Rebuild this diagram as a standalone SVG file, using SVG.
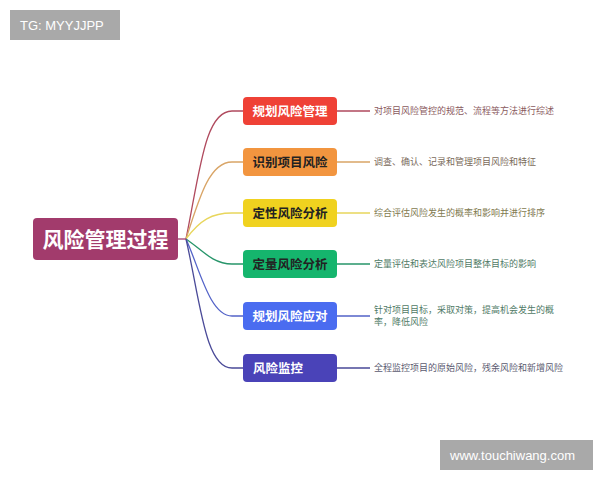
<svg xmlns="http://www.w3.org/2000/svg" width="600" height="480" viewBox="0 0 600 480">
<style>
text{font-family:"Noto Sans CJK SC","Noto Sans",sans-serif}
.n{font-size:12.5px;font-weight:bold;text-anchor:middle}
.d{font-size:9px}
.c{fill:none;stroke-width:1.3}
.wm{font-family:"Liberation Sans",sans-serif;fill:#fff;font-size:13px}
</style>
<rect width="600" height="480" fill="#fff"/>
<g id="connectors">
<path class="c" stroke="#b04a5e" d="M186,239 C200,170 205,111 232,111 L243,111 M337,111 L370,111"/>
<path class="c" stroke="#d9a567" d="M186,239 C200,195 210,162 232,162 L243,162 M337,162 L370,162"/>
<path class="c" stroke="#e8d65c" d="M186,239 C200,220 212,213 232,213 L243,213 M337,213 L370,213"/>
<path class="c" stroke="#27956a" d="M186,239 C200,248 212,264 232,264 L243,264 M337,264 L370,264"/>
<path class="c" stroke="#5363c8" d="M186,239 C200,270 210,316 232,316 L243,316 M337,316 L370,316"/>
<path class="c" stroke="#4a4a98" d="M186,239 C200,300 205,368 232,368 L243,368 M337,368 L370,368"/>
<path class="c" stroke="#a33d6e" d="M178,239 L186,239"/>
</g>
<g id="center"><rect x="33" y="218" width="145" height="42" rx="4" fill="#a23b6c"/><text x="105.5" y="247" font-size="21" font-weight="bold" fill="#fff" text-anchor="middle">风险管理过程</text></g>
<g id="n1"><rect x="243" y="97" width="94" height="28" rx="4" fill="#ef4136"/><text class="n" x="290" y="115.5" fill="#fff">规划风险管理</text><text class="d" x="374" y="114" fill="#8a5a5e">对项目风险管控的规范、流程等方法进行综述</text></g>
<g id="n2"><rect x="243" y="148" width="94" height="28" rx="4" fill="#f2953f"/><text class="n" x="290" y="166.5" fill="#222">识别项目风险</text><text class="d" x="374" y="165" fill="#7a6a5a">调查、确认、记录和管理项目风险和特征</text></g>
<g id="n3"><rect x="243" y="199" width="94" height="28" rx="4" fill="#f0d21f"/><text class="n" x="290" y="217.5" fill="#222">定性风险分析</text><text class="d" x="374" y="216" fill="#7f7a50">综合评估风险发生的概率和影响并进行排序</text></g>
<g id="n4"><rect x="243" y="250" width="94" height="28" rx="4" fill="#15b56d"/><text class="n" x="290" y="268.5" fill="#222">定量风险分析</text><text class="d" x="374" y="267" fill="#4f7a66">定量评估和表达风险项目整体目标的影响</text></g>
<g id="n5"><rect x="243" y="302" width="94" height="28" rx="4" fill="#4a6cf0"/><text class="n" x="290" y="320.5" fill="#fff">规划风险应对</text><text class="d" x="374" y="313" fill="#4f7a66">针对项目目标，采取对策，提高机会发生的概</text><text class="d" x="374" y="325" fill="#4f7a66">率，降低风险</text></g>
<g id="n6"><rect x="243" y="354" width="94" height="28" rx="4" fill="#4a43b8"/><text class="n" x="278" y="372.5" fill="#fff">风险监控</text><text class="d" x="374" y="371" fill="#5a5a70">全程监控项目的原始风险，残余风险和新增风险</text></g>
<rect x="10" y="10" width="110" height="30" fill="#a9a9a9"/><text class="wm" x="20" y="30">TG: MYYJJPP</text>
<rect x="440" y="440" width="153" height="30" fill="#a9a9a9"/><text class="wm" x="450" y="460">www.touchiwang.com</text>
</svg>
